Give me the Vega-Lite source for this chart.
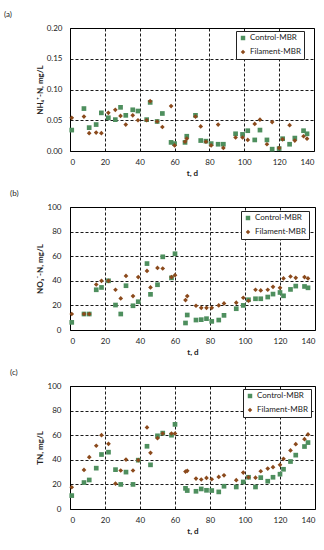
{
  "$schema": "https://vega.github.io/schema/vega-lite/v6.json",
  "padding": {"left": 3, "top": 10, "right": 0, "bottom": 0},
  "background": "white",
  "spacing": 11,
  "align": "none",
  "config": {
    "font": "Lato",
    "view": {"stroke": "black", "strokeWidth": 1},
    "axis": {
      "labelFont": "Lato", "labelFontSize": 8, "labelColor": "#222",
      "titleFont": "Lato", "titleFontSize": 8, "titleFontWeight": "bold", "titleColor": "#222",
      "ticks": false, "domain": false,
      "grid": true, "gridColor": "black", "gridDash": [3, 2], "gridWidth": 0.9, "gridOpacity": 1
    },
    "legend": {
      "labelFont": "Lato", "labelFontSize": 8, "labelColor": "#222",
      "fillColor": "#ffffff", "strokeColor": "#222222"
    },
    "title": {"font": "Lato", "fontSize": 8, "fontWeight": "normal", "color": "#222", "anchor": "start", "frame": "group"}
  },
  "data": {"values": [
    {"t":1,"series":"Control-MBR","nh4":0.034,"no3":6.2,"tn":10.9},
    {"t":8,"series":"Control-MBR","nh4":0.069,"no3":13,"tn":21.5},
    {"t":11,"series":"Control-MBR","nh4":0.038,"no3":13,"tn":23.6},
    {"t":15,"series":"Control-MBR","nh4":0.043,"no3":32.7,"tn":33.2},
    {"t":18,"series":"Control-MBR","nh4":0.062,"no3":34.6,"tn":44.3},
    {"t":22,"series":"Control-MBR","nh4":0.054,"no3":40,"tn":46.2},
    {"t":26,"series":"Control-MBR","nh4":0.051,"no3":20.3,"tn":32},
    {"t":29,"series":"Control-MBR","nh4":0.071,"no3":13,"tn":20},
    {"t":32,"series":"Control-MBR","nh4":0.058,"no3":36,"tn":30},
    {"t":36,"series":"Control-MBR","nh4":0.067,"no3":19.7,"tn":20},
    {"t":39,"series":"Control-MBR","nh4":0.065,"no3":23,"tn":39.7},
    {"t":44,"series":"Control-MBR","nh4":0.051,"no3":54,"tn":51},
    {"t":46,"series":"Control-MBR","nh4":0.079,"no3":29,"tn":35.9},
    {"t":50,"series":"Control-MBR","nh4":0.048,"no3":36.8,"tn":59.5},
    {"t":53,"series":"Control-MBR","nh4":0.061,"no3":59.5,"tn":61.7},
    {"t":58,"series":"Control-MBR","nh4":0.014,"no3":42.4,"tn":60},
    {"t":60,"series":"Control-MBR","nh4":0.012,"no3":62,"tn":68.8},
    {"t":66,"series":"Control-MBR","nh4":0.014,"no3":5.7,"tn":16.8},
    {"t":67,"series":"Control-MBR","nh4":0.024,"no3":12.2,"tn":15},
    {"t":72,"series":"Control-MBR","nh4":0.058,"no3":8.1,"tn":14.4},
    {"t":75,"series":"Control-MBR","nh4":0.017,"no3":8.4,"tn":16.3},
    {"t":78,"series":"Control-MBR","nh4":0.016,"no3":9.2,"tn":15.2},
    {"t":81,"series":"Control-MBR","nh4":0.012,"no3":7,"tn":15},
    {"t":85,"series":"Control-MBR","nh4":0.011,"no3":8.1,"tn":13.9},
    {"t":88,"series":"Control-MBR","nh4":0.011,"no3":11.9,"tn":18.5},
    {"t":95,"series":"Control-MBR","nh4":0.028,"no3":17.3,"tn":17.9},
    {"t":99,"series":"Control-MBR","nh4":0.027,"no3":20,"tn":22},
    {"t":102,"series":"Control-MBR","nh4":0.033,"no3":24.6,"tn":25.8},
    {"t":106,"series":"Control-MBR","nh4":0.018,"no3":25.4,"tn":17.9},
    {"t":109,"series":"Control-MBR","nh4":0.034,"no3":25.4,"tn":25.5},
    {"t":113,"series":"Control-MBR","nh4":0.018,"no3":26.8,"tn":22.6},
    {"t":116,"series":"Control-MBR","nh4":0.003,"no3":29.2,"tn":25.8},
    {"t":120,"series":"Control-MBR","nh4":0.004,"no3":30.5,"tn":28.3},
    {"t":122,"series":"Control-MBR","nh4":0.020,"no3":27.8,"tn":32.3},
    {"t":126,"series":"Control-MBR","nh4":0.011,"no3":33,"tn":38.6},
    {"t":129,"series":"Control-MBR","nh4":0.021,"no3":35.7,"tn":43.8},
    {"t":134,"series":"Control-MBR","nh4":0.033,"no3":35.4,"tn":50.8},
    {"t":136,"series":"Control-MBR","nh4":0.028,"no3":34.3,"tn":54},
    {"t":1,"series":"Filament-MBR","nh4":0.054,"no3":13,"tn":17.7},
    {"t":8,"series":"Filament-MBR","nh4":0.056,"no3":13,"tn":31.8},
    {"t":11,"series":"Filament-MBR","nh4":0.029,"no3":13,"tn":42.1},
    {"t":15,"series":"Filament-MBR","nh4":0.030,"no3":37,"tn":51.4},
    {"t":18,"series":"Filament-MBR","nh4":0.029,"no3":40,"tn":60},
    {"t":22,"series":"Filament-MBR","nh4":0.062,"no3":40,"tn":53},
    {"t":26,"series":"Filament-MBR","nh4":0.067,"no3":32.7,"tn":20.7},
    {"t":29,"series":"Filament-MBR","nh4":0.057,"no3":25.7,"tn":31.3},
    {"t":32,"series":"Filament-MBR","nh4":0.043,"no3":44,"tn":40.2},
    {"t":36,"series":"Filament-MBR","nh4":0.058,"no3":27.6,"tn":31.3},
    {"t":39,"series":"Filament-MBR","nh4":0.050,"no3":43,"tn":39.7},
    {"t":44,"series":"Filament-MBR","nh4":0.050,"no3":48,"tn":66.3},
    {"t":46,"series":"Filament-MBR","nh4":0.081,"no3":34.6,"tn":45.7},
    {"t":50,"series":"Filament-MBR","nh4":0.048,"no3":50.5,"tn":57.6},
    {"t":53,"series":"Filament-MBR","nh4":0.039,"no3":50,"tn":61.4},
    {"t":58,"series":"Filament-MBR","nh4":0.073,"no3":43,"tn":61.4},
    {"t":60,"series":"Filament-MBR","nh4":0.009,"no3":44.6,"tn":61.4},
    {"t":66,"series":"Filament-MBR","nh4":0.015,"no3":24.3,"tn":30.4},
    {"t":67,"series":"Filament-MBR","nh4":0.020,"no3":27.6,"tn":31},
    {"t":72,"series":"Filament-MBR","nh4":0.056,"no3":19.7,"tn":24.7},
    {"t":75,"series":"Filament-MBR","nh4":0.040,"no3":18,"tn":24},
    {"t":78,"series":"Filament-MBR","nh4":0.015,"no3":18,"tn":25.3},
    {"t":81,"series":"Filament-MBR","nh4":0.009,"no3":18,"tn":24.2},
    {"t":85,"series":"Filament-MBR","nh4":0.043,"no3":20,"tn":26.1},
    {"t":88,"series":"Filament-MBR","nh4":0.005,"no3":21.6,"tn":27.4},
    {"t":95,"series":"Filament-MBR","nh4":0.022,"no3":22.2,"tn":23.4},
    {"t":99,"series":"Filament-MBR","nh4":0.022,"no3":26.2,"tn":29.6},
    {"t":102,"series":"Filament-MBR","nh4":0.018,"no3":23.8,"tn":25.8},
    {"t":106,"series":"Filament-MBR","nh4":0.044,"no3":32.7,"tn":25.5},
    {"t":109,"series":"Filament-MBR","nh4":0.051,"no3":32.2,"tn":30.7},
    {"t":113,"series":"Filament-MBR","nh4":0.011,"no3":32.7,"tn":32.9},
    {"t":116,"series":"Filament-MBR","nh4":0.047,"no3":35.1,"tn":34},
    {"t":120,"series":"Filament-MBR","nh4":0.005,"no3":34.3,"tn":35.9},
    {"t":122,"series":"Filament-MBR","nh4":0.019,"no3":41.9,"tn":40.8},
    {"t":126,"series":"Filament-MBR","nh4":0.042,"no3":43.5,"tn":47.6},
    {"t":129,"series":"Filament-MBR","nh4":0.017,"no3":42.4,"tn":52.7},
    {"t":134,"series":"Filament-MBR","nh4":0.024,"no3":43,"tn":56.8},
    {"t":136,"series":"Filament-MBR","nh4":0.020,"no3":41.9,"tn":60.6}
  ]},
  "vconcat": [
    {
      "width": 244, "height": 123,
      "title": {"text": "(a)", "dx": -66, "offset": 5},
      "mark": {"type": "point", "filled": true, "opacity": 1, "size": 22},
      "encoding": {
        "x": {"field": "t", "type": "quantitative", "scale": {"domain": [0, 140], "nice": false},
              "axis": {"values": [0, 20, 40, 60, 80, 100, 120, 140], "title": "t, d", "labelPadding": 7, "titlePadding": 3}},
        "y": {"field": "nh4", "type": "quantitative", "scale": {"domain": [0, 0.2], "nice": false},
              "axis": {"values": [0, 0.05, 0.1, 0.15, 0.2], "format": ".2f", "title": "NH₄⁺-N, mg/L", "labelPadding": 8, "titlePadding": 2}},
        "color": {"field": "series", "type": "nominal",
                  "scale": {"domain": ["Control-MBR", "Filament-MBR"], "range": ["#4e8f5e", "#8b4a1c"]},
                  "legend": {"orient": "none", "legendX": 166, "legendY": 3, "title": null, "direction": "vertical",
                             "padding": 3, "rowPadding": 6, "symbolSize": 20, "labelOffset": 3,
                             "fillColor": "#ffffff", "strokeColor": "#222222"}},
        "shape": {"field": "series", "type": "nominal",
                  "scale": {"domain": ["Control-MBR", "Filament-MBR"], "range": ["square", "diamond"]},
                  "legend": {"orient": "none", "legendX": 166, "legendY": 3, "title": null, "direction": "vertical",
                             "padding": 3, "rowPadding": 6, "symbolSize": 20, "labelOffset": 3,
                             "fillColor": "#ffffff", "strokeColor": "#222222"}}
      }
    },
    {
      "width": 245, "height": 123,
      "title": {"text": "(b)", "dx": -60, "offset": 5},
      "mark": {"type": "point", "filled": true, "opacity": 1, "size": 22},
      "encoding": {
        "x": {"field": "t", "type": "quantitative", "scale": {"domain": [0, 140], "nice": false},
              "axis": {"values": [0, 20, 40, 60, 80, 100, 120, 140], "title": "t, d", "labelPadding": 7, "titlePadding": 3}},
        "y": {"field": "no3", "type": "quantitative", "scale": {"domain": [0, 100], "nice": false},
              "axis": {"values": [0, 20, 40, 60, 80, 100], "title": "NO₃⁻-N, mg/L", "labelPadding": 9, "titlePadding": 3}},
        "color": {"field": "series", "type": "nominal",
                  "scale": {"domain": ["Control-MBR", "Filament-MBR"], "range": ["#4e8f5e", "#8b4a1c"]},
                  "legend": {"orient": "none", "legendX": 171, "legendY": 4, "title": null, "direction": "vertical",
                             "padding": 3, "rowPadding": 6, "symbolSize": 20, "labelOffset": 3,
                             "fillColor": "#ffffff", "strokeColor": "#222222"}},
        "shape": {"field": "series", "type": "nominal",
                  "scale": {"domain": ["Control-MBR", "Filament-MBR"], "range": ["square", "diamond"]},
                  "legend": {"orient": "none", "legendX": 171, "legendY": 4, "title": null, "direction": "vertical",
                             "padding": 3, "rowPadding": 6, "symbolSize": 20, "labelOffset": 3,
                             "fillColor": "#ffffff", "strokeColor": "#222222"}}
      }
    },
    {
      "width": 245, "height": 123,
      "title": {"text": "(c)", "dx": -60, "offset": 5},
      "mark": {"type": "point", "filled": true, "opacity": 1, "size": 22},
      "encoding": {
        "x": {"field": "t", "type": "quantitative", "scale": {"domain": [0, 140], "nice": false},
              "axis": {"values": [0, 20, 40, 60, 80, 100, 120, 140], "title": "t, d", "labelPadding": 7, "titlePadding": 3}},
        "y": {"field": "tn", "type": "quantitative", "scale": {"domain": [0, 100], "nice": false},
              "axis": {"values": [0, 20, 40, 60, 80, 100], "title": "TN, mg/L", "labelPadding": 9, "titlePadding": 3}},
        "color": {"field": "series", "type": "nominal",
                  "scale": {"domain": ["Control-MBR", "Filament-MBR"], "range": ["#4e8f5e", "#8b4a1c"]},
                  "legend": {"orient": "none", "legendX": 173, "legendY": 3, "title": null, "direction": "vertical",
                             "padding": 3, "rowPadding": 6, "symbolSize": 20, "labelOffset": 3,
                             "fillColor": "#ffffff", "strokeColor": "#222222"}},
        "shape": {"field": "series", "type": "nominal",
                  "scale": {"domain": ["Control-MBR", "Filament-MBR"], "range": ["square", "diamond"]},
                  "legend": {"orient": "none", "legendX": 173, "legendY": 3, "title": null, "direction": "vertical",
                             "padding": 3, "rowPadding": 6, "symbolSize": 20, "labelOffset": 3,
                             "fillColor": "#ffffff", "strokeColor": "#222222"}}
      }
    }
  ],
  "resolve": {"scale": {"x": "independent", "y": "independent", "color": "independent", "shape": "independent"}}
}
